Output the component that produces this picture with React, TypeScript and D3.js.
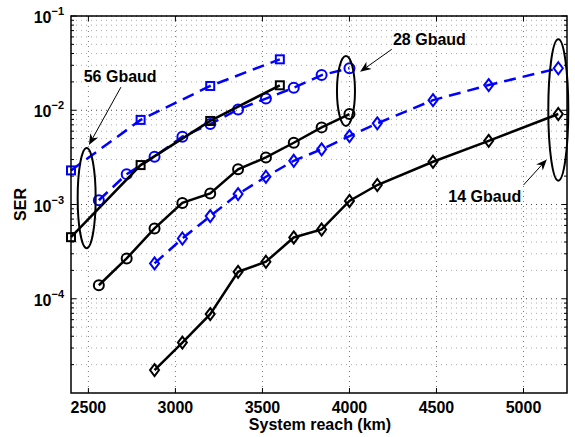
import * as d3 from "d3";

// system reach (km)
const reach56 = [2400, 2800, 3200, 3600];
const reach28 = [2560, 2720, 2880, 3040, 3200, 3360, 3520, 3680, 3840, 4000];
const reach14 = [2880, 3040, 3200, 3360, 3520, 3680, 3840, 4000, 4160, 4480, 4800, 5200];

// SER values
const ser56Blue = [2.3e-3, 7.9e-3, 1.81e-2, 3.47e-2];
const ser56Black = [4.5e-4, 2.62e-3, 7.7e-3, 1.84e-2];
const ser28Blue = [1.11e-3, 2.1e-3, 3.21e-3, 5.24e-3, 7.14e-3, 1.02e-2, 1.33e-2, 1.73e-2, 2.36e-2, 2.79e-2];
const ser28Black = [1.39e-4, 2.68e-4, 5.57e-4, 1.04e-3, 1.31e-3, 2.36e-3, 3.16e-3, 4.52e-3, 6.58e-3, 9.12e-3];
const ser14Blue = [2.37e-4, 4.36e-4, 7.53e-4, 1.29e-3, 1.97e-3, 2.91e-3, 3.85e-3, 5.32e-3, 7.26e-3, 1.28e-2, 1.85e-2, 2.79e-2];
const ser14Black = [1.75e-5, 3.43e-5, 6.87e-5, 1.93e-4, 2.47e-4, 4.47e-4, 5.43e-4, 1.09e-3, 1.61e-3, 2.84e-3, 4.74e-3, 9.12e-3];

const xTicks = [2500, 3000, 3500, 4000, 4500, 5000];
const yExps = [-1, -2, -3, -4];

// annotations, in data units
const ellipses = [
  { x: 2490, top: 3.98e-3, bottom: 3.44e-4, rx: 9 },
  { x: 3980, top: 3.76e-2, bottom: 6.8e-3, rx: 9 },
  { x: 5200, top: 5.66e-2, bottom: 1.79e-3, rx: 10 },
];
const labels = [
  { text: "56 Gbaud", x: 2473, y: 2.01e-2, x1: 2687, y1: 1.76e-2, x2: 2503, y2: 4.28e-3 },
  { text: "28 Gbaud", x: 4250, y: 4.92e-2, x1: 4243, y1: 4.43e-2, x2: 4061, y2: 2.56e-2 },
  { text: "14 Gbaud", x: 4568, y: 1.07e-3, x1: 5000, y1: 1.61e-3, x2: 5134, y2: 3.01e-3 },
];

const W = 575;
const H = 437;
const m = { left: 71, right: 567, top: 16, bottom: 393 };
const font = "'Liberation Sans', Arial, Helvetica, sans-serif";

const x = d3.scaleLinear().domain([2400, 5250]).range([m.left, m.right]);
const y = d3.scaleLog().domain([1e-5, 1e-1]).range([m.bottom, m.top]);

const minorY: number[] = [];
for (let e = -5; e < -1; e++) for (let k = 2; k <= 9; k++) minorY.push(k * Math.pow(10, e));

type Marker = "square" | "circle" | "diamond";

function Series({ xs, ys, color, dashed, marker }: { xs: number[]; ys: number[]; color: string; dashed: boolean; marker: Marker }) {
  const pts = xs.map((v, i) => [x(v), y(ys[i])] as [number, number]);
  const line = d3.line();
  return (
    <g>
      <path d={line(pts) || ""} fill="none" stroke={color} strokeWidth={2.5} strokeDasharray={dashed ? "12,7" : undefined} />
      {pts.map(([px, py], i) => {
        if (marker === "circle") return <circle key={i} cx={px} cy={py} r={5} fill="none" stroke={color} strokeWidth={2} />;
        if (marker === "square") return <rect key={i} x={px - 4} y={py - 4} width={8} height={8} fill="none" stroke={color} strokeWidth={2} />;
        return <path key={i} d={`M${px},${py - 6}L${px + 4.5},${py}L${px},${py + 6}L${px - 4.5},${py}Z`} fill="none" stroke={color} strokeWidth={2} />;
      })}
    </g>
  );
}

function Arrow({ x1, y1, x2, y2 }: { x1: number; y1: number; x2: number; y2: number }) {
  const ax = x(x1), ay = y(y1), bx = x(x2), by = y(y2);
  const a = Math.atan2(by - ay, bx - ax);
  const L = 11, wd = 4.5;
  const ux = Math.cos(a), uy = Math.sin(a);
  const bxs = bx - ux * L, bys = by - uy * L;
  const p1 = [bxs - uy * wd, bys + ux * wd];
  const p2 = [bxs + uy * wd, bys - ux * wd];
  const n = [bx - ux * L * 0.7, by - uy * L * 0.7];
  return (
    <g>
      <line x1={ax} y1={ay} x2={n[0]} y2={n[1]} stroke="#000" strokeWidth={1} />
      <path d={`M${bx},${by}L${p1[0]},${p1[1]}L${n[0]},${n[1]}L${p2[0]},${p2[1]}Z`} fill="#000" />
    </g>
  );
}

export default function App() {
  return (
    <svg width={W} height={H} style={{ position: "absolute", left: 0, top: 0, background: "#fff" }} fontFamily={font}>
      {/* grid */}
      {minorY.map((v, i) => (
        <line key={"mg" + i} x1={m.left} x2={m.right} y1={y(v)} y2={y(v)} stroke="#aaa" strokeWidth={1} strokeDasharray="1,4" />
      ))}
      {yExps.map((e) => (
        <line key={"yg" + e} x1={m.left} x2={m.right} y1={y(Math.pow(10, e))} y2={y(Math.pow(10, e))} stroke="#444" strokeWidth={1} strokeDasharray="1,4" />
      ))}
      {xTicks.map((t) => (
        <line key={"xg" + t} x1={x(t)} x2={x(t)} y1={m.top} y2={m.bottom} stroke="#777" strokeWidth={1} strokeDasharray="1,4" />
      ))}

      {/* ticks */}
      {xTicks.map((t) => (
        <g key={"xt" + t} stroke="#000" strokeWidth={1}>
          <line x1={x(t)} x2={x(t)} y1={m.bottom} y2={m.bottom - 5} />
          <line x1={x(t)} x2={x(t)} y1={m.top} y2={m.top + 5} />
        </g>
      ))}
      {[...yExps.map((e) => Math.pow(10, e)), ...minorY].map((v, i) => {
        const major = i < yExps.length;
        const len = major ? 5 : 3;
        return (
          <g key={"yt" + i} stroke="#000" strokeWidth={1}>
            <line x1={m.left} x2={m.left + len} y1={y(v)} y2={y(v)} />
            <line x1={m.right} x2={m.right - len} y1={y(v)} y2={y(v)} />
          </g>
        );
      })}

      {/* series */}
      <Series xs={reach56} ys={ser56Blue} color="#0000ff" dashed marker="square" />
      <Series xs={reach28} ys={ser28Blue} color="#0000ff" dashed marker="circle" />
      <Series xs={reach14} ys={ser14Blue} color="#0000ff" dashed marker="diamond" />
      <Series xs={reach56} ys={ser56Black} color="#000" dashed={false} marker="square" />
      <Series xs={reach28} ys={ser28Black} color="#000" dashed={false} marker="circle" />
      <Series xs={reach14} ys={ser14Black} color="#000" dashed={false} marker="diamond" />

      {/* annotations */}
      {ellipses.map((e, i) => (
        <ellipse key={"el" + i} cx={x(e.x)} cy={(y(e.top) + y(e.bottom)) / 2} rx={e.rx} ry={(y(e.bottom) - y(e.top)) / 2} fill="none" stroke="#000" strokeWidth={2} />
      ))}
      {labels.map((l) => (
        <g key={l.text}>
          <Arrow x1={l.x1} y1={l.y1} x2={l.x2} y2={l.y2} />
          <text x={x(l.x)} y={y(l.y)} fontSize={16} fontWeight="bold">{l.text}</text>
        </g>
      ))}

      {/* box */}
      <rect x={m.left} y={m.top} width={m.right - m.left} height={m.bottom - m.top} fill="none" stroke="#000" strokeWidth={1.5} />

      {/* tick labels */}
      {xTicks.map((t) => (
        <text key={"xl" + t} x={x(t)} y={413} textAnchor="middle" fontSize={16} fontWeight="bold">{t}</text>
      ))}
      {yExps.map((e) => (
        <text key={"yl" + e} x={m.left - 7} y={y(Math.pow(10, e)) + 7} textAnchor="end" fontSize={16} fontWeight="bold">
          10<tspan dy={-8} fontSize={11}>{"\u2212" + Math.abs(e)}</tspan>
        </text>
      ))}

      {/* axis labels */}
      <text x={(m.left + m.right) / 2 + 1} y={430} textAnchor="middle" fontSize={16} fontWeight="bold">System reach (km)</text>
      <text transform={`translate(26,${(m.top + m.bottom) / 2}) rotate(-90)`} textAnchor="middle" fontSize={16} fontWeight="bold">SER</text>
    </svg>
  );
}
